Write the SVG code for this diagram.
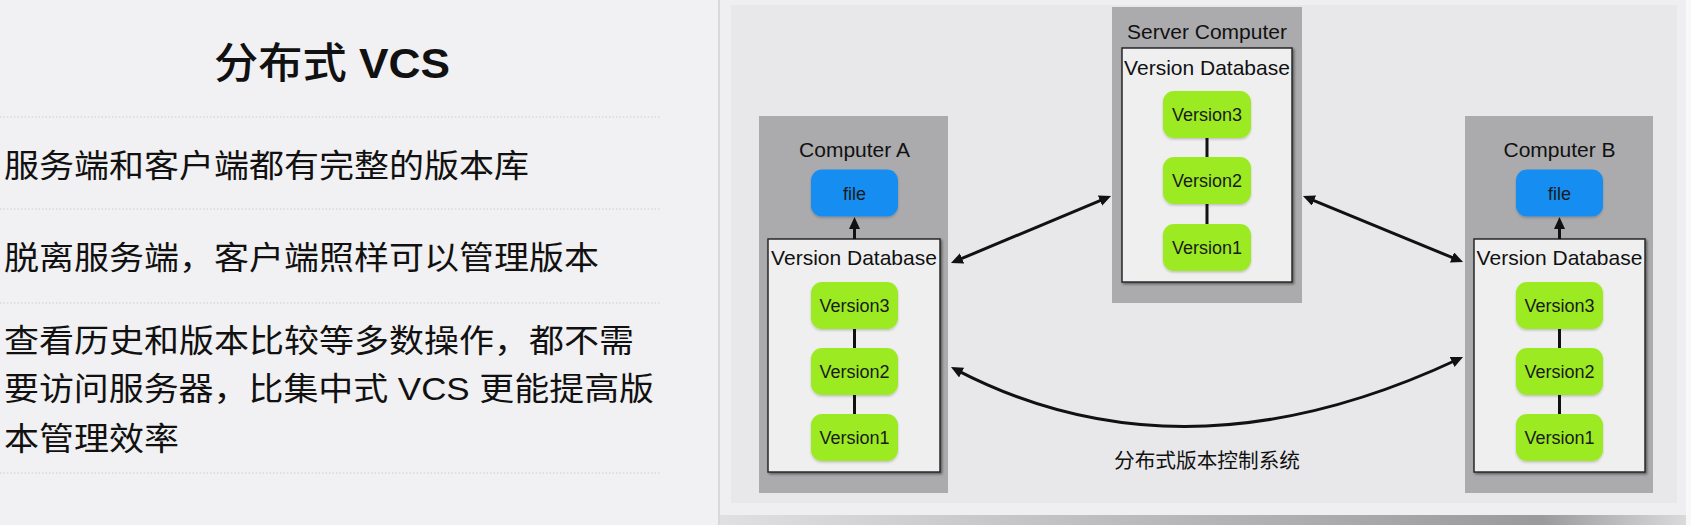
<svg xmlns="http://www.w3.org/2000/svg" width="1691" height="525" viewBox="0 0 1691 525">
<defs>
<style>
.t{font-family:"Liberation Sans","Noto Sans CJK SC",sans-serif;fill:#111}
.body{font-size:32px}
.lbl{font-size:21px;text-anchor:middle}
.ver{font-size:18px;text-anchor:middle;fill:#1a1a1a}
.comp{fill:#ababad}
.db{fill:#efeff0;stroke:#2a2a2a;stroke-width:1.5}
.v{fill:#9ceb20}
.f{fill:#178df0}
.sep{stroke:#cdcccf;stroke-width:1.2;stroke-dasharray:1.5 2}
.link{stroke:#111;stroke-width:3;fill:none}
.chain{stroke:#111;stroke-width:3}
</style>
<marker id="ah" viewBox="0 0 12 11" refX="6" refY="5.5" markerWidth="12" markerHeight="11" markerUnits="userSpaceOnUse" orient="auto-start-reverse">
<path d="M0,0 L12,5.5 L0,11 z" fill="#111"/>
</marker>
<filter id="sh" x="-10%" y="-10%" width="130%" height="130%">
<feDropShadow dx="1.5" dy="1.5" stdDeviation="0.8" flood-color="#000" flood-opacity="0.45"/>
</filter>
<filter id="vs" x="-10%" y="-10%" width="130%" height="130%">
<feDropShadow dx="0" dy="1.5" stdDeviation="1" flood-color="#000" flood-opacity="0.2"/>
</filter>
<linearGradient id="band" x1="0" y1="0" x2="1" y2="0">
<stop offset="0" stop-color="#e0e0e2"/>
<stop offset="0.4" stop-color="#bdbdbf"/>
<stop offset="0.85" stop-color="#9a9a9c"/>
<stop offset="1" stop-color="#dadadc"/>
</linearGradient>
</defs>

<g id="background">
<rect x="0" y="0" width="1691" height="525" fill="#f1f0f2"/>
<rect x="720" y="0" width="966" height="525" fill="#efeef0"/>
<rect x="1686" y="0" width="5" height="525" fill="#f8f8f9"/>
<line x1="719" y1="0" x2="719" y2="525" stroke="#d9d8da" stroke-width="2"/>
<rect x="731" y="5" width="946" height="498" fill="#e8e8ea"/>
<rect x="720" y="515" width="966" height="10" fill="url(#band)"/>
</g>

<g id="left-panel">
<text class="t" x="214" y="78" font-size="42" textLength="236" lengthAdjust="spacingAndGlyphs"><tspan font-weight="500">分布式</tspan><tspan font-weight="bold"> VCS</tspan></text>
<line class="sep" x1="0" y1="117" x2="661" y2="117"/>
<text class="t body" x="4" y="177" textLength="525" lengthAdjust="spacingAndGlyphs">服务端和客户端都有完整的版本库</text>
<line class="sep" x1="0" y1="209" x2="661" y2="209"/>
<text class="t body" x="4" y="268.5" textLength="595" lengthAdjust="spacingAndGlyphs">脱离服务端，客户端照样可以管理版本</text>
<line class="sep" x1="0" y1="303" x2="661" y2="303"/>
<text class="t body" x="4" y="352" textLength="630" lengthAdjust="spacingAndGlyphs">查看历史和版本比较等多数操作，都不需</text>
<text class="t body" x="4" y="400" textLength="650" lengthAdjust="spacingAndGlyphs">要访问服务器，比集中式 VCS 更能提高版</text>
<text class="t body" x="4" y="450" textLength="175" lengthAdjust="spacingAndGlyphs">本管理效率</text>
<line class="sep" x1="0" y1="473" x2="661" y2="473"/>
</g>

<g id="computer-a">
<rect class="comp" x="759" y="116" width="189" height="377"/>
<text class="t lbl" x="854.5" y="157">Computer A</text>
</g>
<g id="file-a">
<rect class="f" x="811" y="169.5" width="87" height="47" rx="11" filter="url(#vs)"/>
<text class="t ver" x="854.5" y="199.5">file</text>
</g>
<g id="db-a">
<rect class="db" x="768" y="239" width="172" height="233" filter="url(#sh)"/>
<text class="t lbl" x="854" y="264.5">Version Database</text>
</g>
<g id="a-version3">
<rect class="v" x="811" y="282" width="87" height="47" rx="11" filter="url(#vs)"/>
<text class="t ver" x="854.5" y="312">Version3</text>
</g>
<g id="a-version2">
<rect class="v" x="811" y="348" width="87" height="47" rx="11" filter="url(#vs)"/>
<text class="t ver" x="854.5" y="378">Version2</text>
</g>
<g id="a-version1">
<rect class="v" x="811" y="414" width="87" height="47" rx="11" filter="url(#vs)"/>
<text class="t ver" x="854.5" y="444">Version1</text>
</g>

<g id="server">
<rect class="comp" x="1112" y="7" width="190" height="296"/>
<text class="t lbl" x="1207" y="39">Server Computer</text>
</g>
<g id="db-server">
<rect class="db" x="1122" y="48" width="170" height="234" filter="url(#sh)"/>
<text class="t lbl" x="1207" y="74.5">Version Database</text>
</g>
<g id="s-version3">
<rect class="v" x="1163" y="91" width="88" height="47" rx="11" filter="url(#vs)"/>
<text class="t ver" x="1207" y="121">Version3</text>
</g>
<g id="s-version2">
<rect class="v" x="1163" y="157" width="88" height="47" rx="11" filter="url(#vs)"/>
<text class="t ver" x="1207" y="187">Version2</text>
</g>
<g id="s-version1">
<rect class="v" x="1163" y="224" width="88" height="47" rx="11" filter="url(#vs)"/>
<text class="t ver" x="1207" y="254">Version1</text>
</g>

<g id="computer-b">
<rect class="comp" x="1465" y="116" width="188" height="377"/>
<text class="t lbl" x="1559.5" y="157">Computer B</text>
</g>
<g id="file-b">
<rect class="f" x="1516" y="169.5" width="87" height="47" rx="11" filter="url(#vs)"/>
<text class="t ver" x="1559.5" y="199.5">file</text>
</g>
<g id="db-b">
<rect class="db" x="1474" y="239" width="171" height="233" filter="url(#sh)"/>
<text class="t lbl" x="1559.5" y="264.5">Version Database</text>
</g>
<g id="b-version3">
<rect class="v" x="1516" y="282" width="87" height="47" rx="11" filter="url(#vs)"/>
<text class="t ver" x="1559.5" y="312">Version3</text>
</g>
<g id="b-version2">
<rect class="v" x="1516" y="348" width="87" height="47" rx="11" filter="url(#vs)"/>
<text class="t ver" x="1559.5" y="378">Version2</text>
</g>
<g id="b-version1">
<rect class="v" x="1516" y="414" width="87" height="47" rx="11" filter="url(#vs)"/>
<text class="t ver" x="1559.5" y="444">Version1</text>
</g>

<g id="caption">
<text class="t" x="1114" y="468" font-size="20" textLength="186" lengthAdjust="spacingAndGlyphs">分布式版本控制系统</text>
</g>

<g id="connectors">
<line class="chain" x1="854.5" y1="329" x2="854.5" y2="348"/>
<line class="chain" x1="854.5" y1="395" x2="854.5" y2="414"/>
<line class="chain" x1="1207" y1="138" x2="1207" y2="157"/>
<line class="chain" x1="1207" y1="204" x2="1207" y2="224"/>
<line class="chain" x1="1559.5" y1="329" x2="1559.5" y2="348"/>
<line class="chain" x1="1559.5" y1="395" x2="1559.5" y2="414"/>
<line class="link" x1="854.5" y1="239" x2="854.5" y2="223" marker-end="url(#ah)"/>
<line class="link" x1="1559.5" y1="239" x2="1559.5" y2="223" marker-end="url(#ah)"/>
<line class="link" x1="956.5" y1="260.7" x2="1105.5" y2="198.3" marker-start="url(#ah)" marker-end="url(#ah)"/>
<line class="link" x1="1308.5" y1="198.3" x2="1457.5" y2="259.7" marker-start="url(#ah)" marker-end="url(#ah)"/>
<path class="link" d="M956.3,369.8 Q1183,488 1457.6,359.5" marker-start="url(#ah)" marker-end="url(#ah)"/>
</g>
</svg>
